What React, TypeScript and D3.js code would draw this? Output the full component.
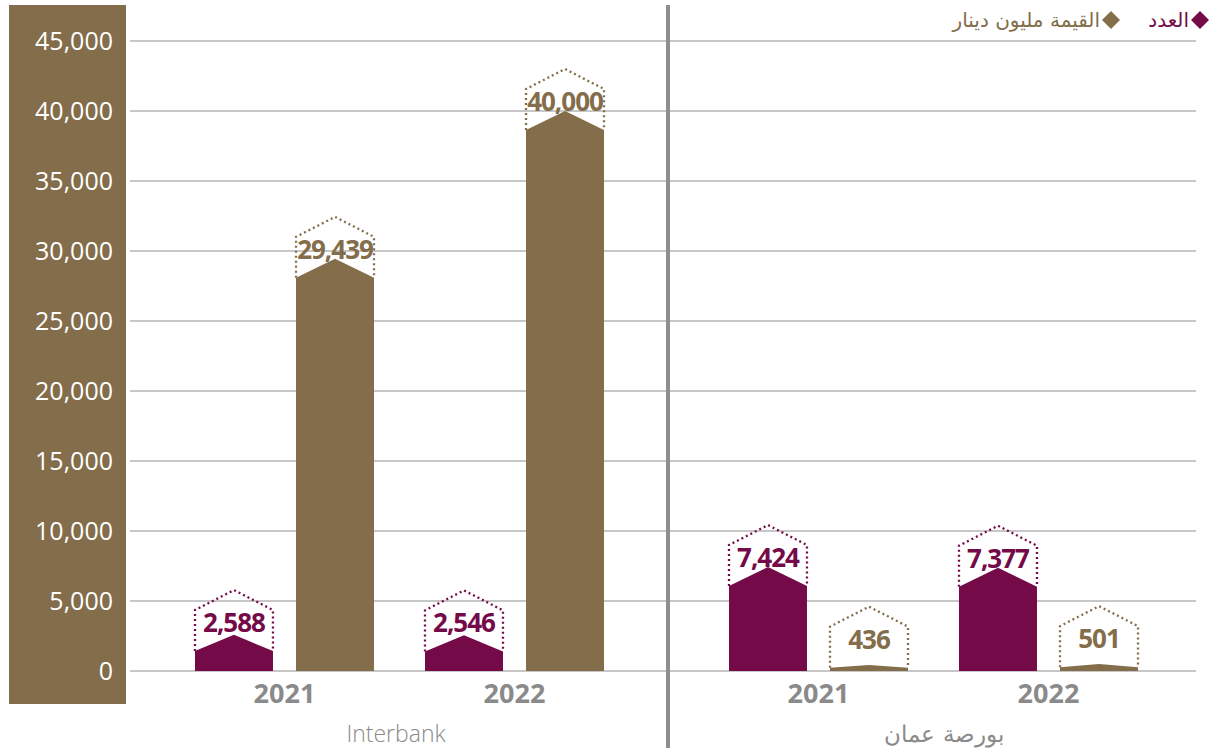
import React from 'react';
import * as d3 from 'd3';

// chart data
const years = ['2021', '2022'];
const panels = ['Interbank', 'بورصة عمان'];
const seriesKeys = ['count', 'value'];
const seriesNames = ['العدد', 'القيمة مليون دينار'];
const interbankCount = [2588, 2546];
const interbankValue = [29439, 40000];
const exchangeCount = [7424, 7377];
const exchangeValue = [436, 501];
const yTicks = [0, 5000, 10000, 15000, 20000, 25000, 30000, 35000, 40000, 45000];

const PURPLE = '#740a48';
const BROWN = '#836d4b';
const GRAY = '#8a8a8a';
const NUM_FONT = '"Open Sans", "DejaVu Sans", sans-serif';
const AR_FONT = '"DejaVu Sans", sans-serif';

const W = 1215;
const H = 751;
const fmt = d3.format(',');

const panelData = [
    { name: panels[0], count: interbankCount, value: interbankValue, range: [144, 655], labelX: 396 },
    { name: panels[1], count: exchangeCount, value: exchangeValue, range: [678, 1189], labelX: 944 }
];

const y = d3.scaleLinear().domain([0, 45000]).range([671, 41]);

const colorOf = (k: string) => (k === 'count' ? PURPLE : BROWN);

const Bar: React.FC<{ x0: number; w: number; v: number; color: string }> = ({ x0, w, v, color }) => {
    const base = y(0);
    const peak = y(v);
    const h = base - peak;
    const tri = Math.min(19, h * 0.45);
    const sh = peak + tri;
    const x1 = x0 + w;
    const xm = x0 + w / 2;
    const body = `M${x0},${base}L${x0},${sh}L${xm},${peak}L${x1},${sh}L${x1},${base}Z`;
    const roof = `M${x0},${sh}L${x0},${sh - 41}L${xm},${sh - 61}L${x1},${sh - 41}L${x1},${sh}`;
    return (
        <g>
            <path d={body} fill={color} />
            <path d={roof} fill="none" stroke={color} strokeWidth={2.3} strokeDasharray="2 3" />
            <text x={xm} y={sh - 19} textAnchor="middle" fill={color}
                fontFamily={NUM_FONT} fontWeight={700} fontSize={26} letterSpacing={-1}>
                {fmt(v)}
            </text>
        </g>
    );
};

export default function App() {
    return (
        <svg width={W} height={H} style={{ position: 'absolute', left: 0, top: 0, background: '#fff' }}>
            {/* axis panel */}
            <rect x={9} y={5} width={117} height={699} fill={BROWN} />
            {yTicks.map(t => (
                <g key={t}>
                    <line x1={130} x2={1196} y1={y(t)} y2={y(t)} stroke="#b4b4b4" strokeWidth={1.5} />
                    <text x={113} y={y(t)} dy="0.35em" textAnchor="end" fill="#fff"
                        fontFamily={NUM_FONT} fontSize={25}>
                        {fmt(t)}
                    </text>
                </g>
            ))}

            {/* divider */}
            <line x1={668} x2={668} y1={5} y2={748} stroke="#8e8e8e" strokeWidth={4} />

            {panelData.map(p => {
                const xYear = d3.scaleBand().domain(years).range(p.range as [number, number]).padding(0.2217);
                const xSeries = d3.scaleBand().domain(seriesKeys).range([0, xYear.bandwidth()]).paddingInner(0.228);
                return (
                    <g key={p.name}>
                        {years.map((yr, i) => (
                            <g key={yr} transform={`translate(${xYear(yr)},0)`}>
                                {seriesKeys.map(k => (
                                    <Bar key={k} x0={xSeries(k)!} w={xSeries.bandwidth()}
                                        v={(p as any)[k][i]} color={colorOf(k)} />
                                ))}
                                <text x={xYear.bandwidth() / 2} y={703} textAnchor="middle" fill={GRAY}
                                    fontFamily={NUM_FONT} fontWeight={700} fontSize={27}>
                                    {yr}
                                </text>
                            </g>
                        ))}
                        <text x={p.labelX} y={742} textAnchor="middle" fill={GRAY}
                            fontFamily={p.name === 'Interbank' ? NUM_FONT : AR_FONT} fontWeight={300} fontSize={23}>
                            {p.name}
                        </text>
                    </g>
                );
            })}

            {/* legend */}
            <path d="M1200,11L1209,20L1200,29L1191,20Z" fill={PURPLE} />
            <text x={1189} y={27} textAnchor="end" fill={PURPLE} fontFamily={AR_FONT} fontSize={20}>
                {seriesNames[0]}
            </text>
            <path d="M1111,11L1120,20L1111,29L1102,20Z" fill={BROWN} />
            <text x={1100} y={27} textAnchor="end" fill={BROWN} fontFamily={AR_FONT} fontSize={20}>
                {seriesNames[1]}
            </text>
        </svg>
    );
}
